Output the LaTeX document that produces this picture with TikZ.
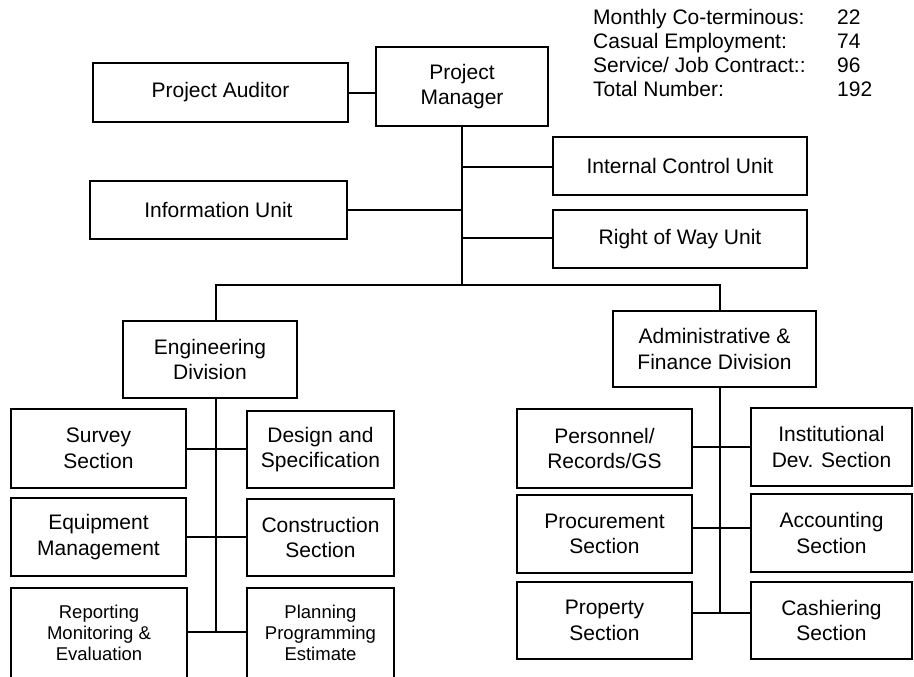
\documentclass[tikz,border=0pt]{standalone}
\usepackage{fontspec}
\setmainfont{Liberation Sans}
\tikzset{
  box/.style={draw, line width=1.3pt, inner sep=0pt, align=center,
    font=\fontsize{21}{25.5}\selectfont},
  smallbox/.style={box, font=\fontsize{18.5}{21}\selectfont},
  conn/.style={line width=1.3pt},
  legend/.style={anchor=base west, inner sep=0pt, font=\fontsize{21}{24}\selectfont}
}
\begin{document}
\begin{tikzpicture}[x=1pt,y=-1pt]
\useasboundingbox (0,0) rectangle (914,677);
\clip (0,0) rectangle (914,677);
% top level
\node[box, minimum width=255pt, minimum height=59pt] (aud) at (220.5,92.5) {Project Auditor};
\node[box, minimum width=172pt, minimum height=79pt] (pm) at (462,86.5) {Project\\Manager};
\node[box, minimum width=254pt, minimum height=58pt] (icu) at (680,166) {Internal Control Unit};
\node[box, minimum width=257pt, minimum height=58pt] (info) at (218.5,210) {Information Unit};
\node[box, minimum width=254pt, minimum height=58pt] (row) at (680,239) {Right of Way Unit};
% divisions
\node[box, minimum width=174pt, minimum height=77pt] (eng) at (210,359.5) {Engineering\\Division};
\node[box, minimum width=203pt, minimum height=76pt] (adm) at (714.5,349) {Administrative \&\\Finance Division};
% engineering sections
\node[box, minimum width=175pt, minimum height=79pt] (survey) at (98.5,448.5) {Survey\\Section};
\node[box, minimum width=147pt, minimum height=77pt] (design) at (320.5,449.5) {Design and\\Specification};
\node[box, minimum width=175pt, minimum height=78pt] (equip) at (98.5,537) {Equipment\\Management};
\node[box, minimum width=147pt, minimum height=77pt] (constr) at (320.5,537.5) {Construction\\Section};
\node[smallbox, minimum width=176pt, minimum height=90pt] (report) at (99,633) {Reporting\\Monitoring \&\\Evaluation};
\node[smallbox, minimum width=147pt, minimum height=90pt] (plan) at (320.5,633) {Planning\\Programming\\Estimate};
% admin sections
\node[box, minimum width=175pt, minimum height=79pt] (pers) at (604.5,448.5) {Personnel/\\Records/GS};
\node[box, minimum width=161pt, minimum height=78pt] (inst) at (831.5,447) {Institutional\\Dev. Section};
\node[box, minimum width=175pt, minimum height=78pt] (proc) at (604.5,534) {Procurement\\Section};
\node[box, minimum width=161pt, minimum height=78pt] (acct) at (831.5,533) {Accounting\\Section};
\node[box, minimum width=175pt, minimum height=77pt] (prop) at (604.5,620.5) {Property\\Section};
\node[box, minimum width=161pt, minimum height=77pt] (cash) at (831.5,620.5) {Cashiering\\Section};
% legend
\node[legend] (l1) at (593,24.5) {Monthly Co-terminous:};
\node[legend] (l2) at (593,48.5) {Casual Employment:};
\node[legend] (l3) at (593,72.5) {Service/ Job Contract::};
\node[legend] (l4) at (593,96.5) {Total Number:};
\node[legend] (n1) at (837,24.5) {22};
\node[legend] (n2) at (837,48.5) {74};
\node[legend] (n3) at (837,72.5) {96};
\node[legend] (n4) at (837,96.5) {192};
% junction points
\coordinate (ja) at (462,93);
\coordinate (j1) at (462,167);
\coordinate (j2) at (462,210);
\coordinate (j3) at (462,238);
\coordinate (pmj) at (462,285);
\coordinate (bl) at (216,285);
\coordinate (br) at (720,285);
\coordinate (e1) at (216,449);
\coordinate (e2) at (216,537);
\coordinate (ebot) at (216,632);
\coordinate (a1) at (720,447);
\coordinate (a2) at (720,528);
\coordinate (abot) at (720,613);
% connectors
\draw[conn] (aud.east |- ja) -- (pm.west |- ja);
\draw[conn] (pm.south) -- (pmj);
\draw[conn] (icu.west |- j1) -- (j1);
\draw[conn] (info.east |- j2) -- (j2);
\draw[conn] (row.west |- j3) -- (j3);
\draw[conn] (eng.north -| bl) -- (bl) -- (br) -- (adm.north -| br);
\draw[conn] (eng.south -| ebot) -- (ebot);
\draw[conn] (survey.east |- e1) -- (design.west |- e1);
\draw[conn] (equip.east |- e2) -- (constr.west |- e2);
\draw[conn] (report.east |- ebot) -- (plan.west |- ebot);
\draw[conn] (adm.south -| abot) -- (abot);
\draw[conn] (pers.east |- a1) -- (inst.west |- a1);
\draw[conn] (proc.east |- a2) -- (acct.west |- a2);
\draw[conn] (prop.east |- abot) -- (cash.west |- abot);
\end{tikzpicture}
\end{document}
